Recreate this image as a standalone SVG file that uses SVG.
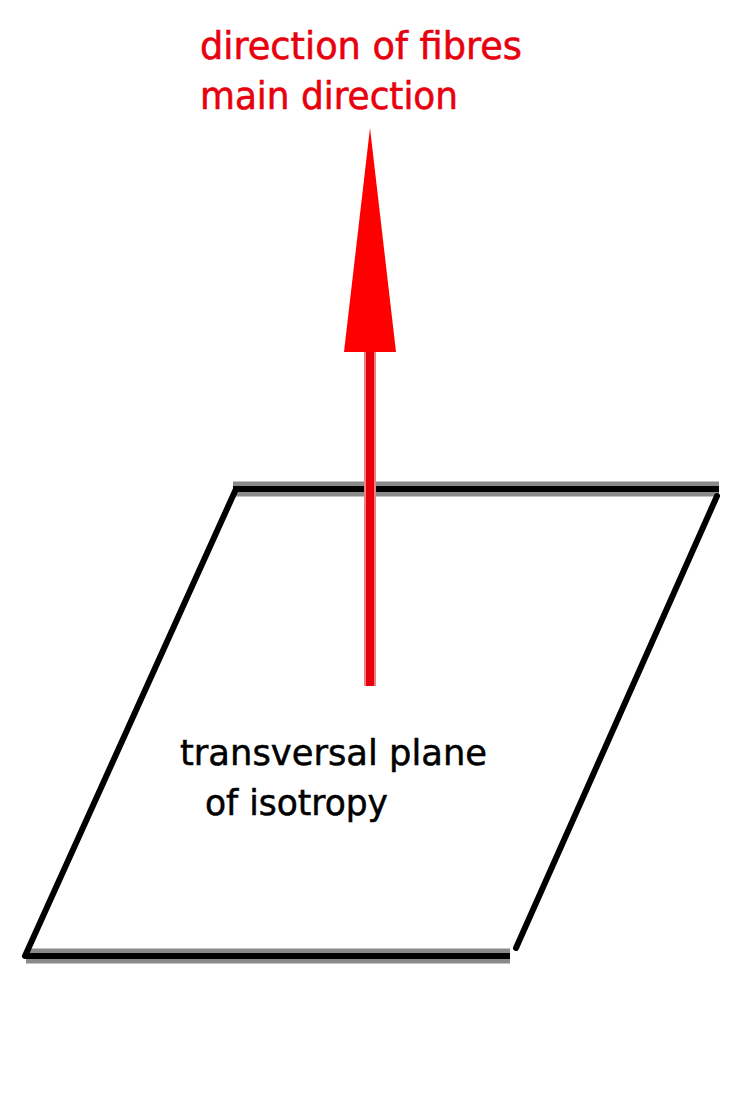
<svg xmlns="http://www.w3.org/2000/svg" width="731" height="1100" viewBox="0 0 731 1100">
<style>
.red{fill:#e8000e;stroke:#e8000e;stroke-width:0.6;font-family:"DejaVu Sans",sans-serif;font-size:37px}
.blk{fill:#000;stroke:#000;stroke-width:0.5;font-family:"DejaVu Sans",sans-serif;font-size:35px}
.band{stroke:#8a8a8a;stroke-width:15}
.core{stroke:#000;stroke-width:6}
.side{stroke:#000;stroke-width:6;stroke-linecap:round}
</style>
<rect width="731" height="1100" fill="#fff"/>
<g id="plane">
<line class="band" x1="233" y1="489" x2="719" y2="489"/>
<line class="core" x1="233" y1="489" x2="719" y2="489"/>
<line class="band" x1="26" y1="956" x2="510" y2="956"/>
<line class="core" x1="26" y1="956" x2="510" y2="956"/>
<line class="side" x1="236" y1="489" x2="25" y2="956"/>
<line class="side" x1="717" y1="496" x2="516" y2="948"/>
</g>
<g id="connectors">
<line x1="370" y1="686" x2="370" y2="350" stroke="#f08080" stroke-width="12"/>
<line x1="370" y1="686" x2="370" y2="350" stroke="#e8000e" stroke-width="8"/>
<polygon points="370,128 396,352 344,352" fill="#ff0000"/>
</g>
<g id="label-fibres">
<text class="red" x="200" y="59" textLength="322" lengthAdjust="spacingAndGlyphs">direction of fibres</text>
<text class="red" x="200" y="109" textLength="258" lengthAdjust="spacingAndGlyphs">main direction</text>
</g>
<g id="label-plane">
<text class="blk" x="180" y="765" textLength="307" lengthAdjust="spacingAndGlyphs">transversal plane</text>
<text class="blk" x="205" y="815" textLength="183" lengthAdjust="spacingAndGlyphs">of isotropy</text>
</g>
</svg>
